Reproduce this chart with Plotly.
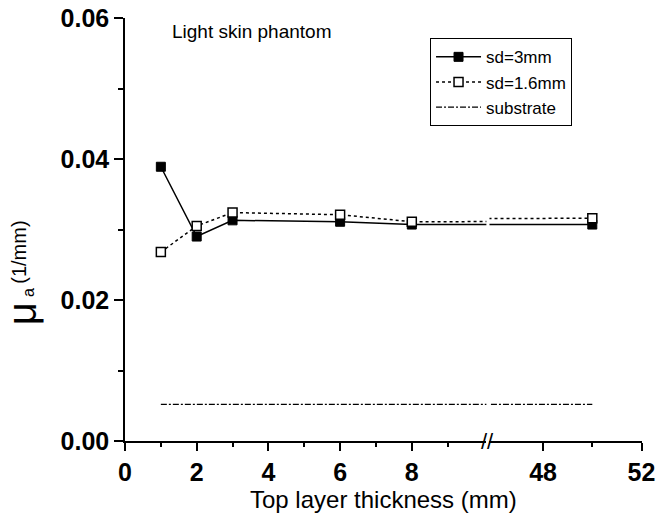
import plotly.graph_objects as go

# Data
thickness = [1, 2, 3, 6, 8, 50]
sd_3mm = [0.0389, 0.0290, 0.0313, 0.0311, 0.0307, 0.0307]
sd_16mm = [0.0268, 0.0305, 0.0324, 0.0321, 0.0311, 0.0316]
substrate = [0.0052, 0.0052, 0.0052, 0.0052, 0.0052, 0.0052]

left_ticks = [0, 2, 4, 6, 8]
left_minor = [1, 3, 5, 7, 9]
right_ticks = [48, 52]
right_minor = [50]
y_ticks = [0.00, 0.02, 0.04, 0.06]

fig = go.Figure()

series = [
    ("sd=3mm", sd_3mm, dict(color="black", width=1.5, dash="solid"),
     dict(symbol="square", size=9, color="black", line=dict(color="black", width=1))),
    ("sd=1.6mm", sd_16mm, dict(color="black", width=1.5, dash="dot"),
     dict(symbol="square", size=9, color="white", line=dict(color="black", width=1.5))),
    ("substrate", substrate, dict(color="black", width=1.3, dash="6px,2px,2px,2px"), None),
]

for xa, show in (("x", True), ("x2", False)):
    for name, vals, line, marker in series:
        fig.add_trace(go.Scatter(
            x=thickness, y=vals, name=name,
            mode="lines+markers" if marker else "lines",
            line=line, marker=marker, xaxis=xa, yaxis="y",
            showlegend=show, cliponaxis=True,
        ))

tickfont = dict(family="Arial", size=25, color="black", weight="bold")
common_x = dict(showline=True, linecolor="black", linewidth=1.5, ticks="outside",
                ticklen=8, tickwidth=1.5, tickcolor="black", showgrid=False,
                zeroline=False, tickfont=tickfont, mirror=False, automargin=False)

fig.update_layout(
    width=658, height=529,
    margin=dict(l=125, r=16, t=18, b=88, autoexpand=False),
    paper_bgcolor="white", plot_bgcolor="white",
    xaxis=dict(domain=[0, 0.699], range=[0, 10.08], tickmode="array",
               tickvals=left_ticks,
               minor=dict(tickvals=left_minor, ticks="outside", ticklen=4,
                          tickwidth=1.5, tickcolor="black"),
               anchor="y", **common_x),
    xaxis2=dict(domain=[0.705, 1], range=[45.82, 52.02], tickmode="array",
                tickvals=right_ticks,
                minor=dict(tickvals=right_minor, ticks="outside", ticklen=4,
                           tickwidth=1.5, tickcolor="black"),
                anchor="y", **common_x),
    yaxis=dict(range=[0, 0.06], tickmode="array", tickvals=y_ticks,
               tickformat=".2f", showline=True, linecolor="black", linewidth=1.5,
               ticks="outside", ticklen=9, tickwidth=1.5, tickcolor="black",
               minor=dict(dtick=0.01, ticks="outside", ticklen=5, tickwidth=1.5,
                          tickcolor="black"),
               showgrid=False, zeroline=False, tickfont=tickfont, anchor="x",
               automargin=False),
    legend=dict(x=0.59, y=0.952, xanchor="left", yanchor="top",
                bordercolor="black", borderwidth=1, bgcolor="white",
                font=dict(family="Arial", size=17, color="black"),
                tracegroupgap=0, itemwidth=45),
    showlegend=True,
)

fig.add_annotation(text="Light skin phantom", xref="paper", yref="paper",
                   x=0.246, y=0.967, showarrow=False, xanchor="center",
                   yanchor="middle",
                   font=dict(family="Arial", size=19, color="black"))
fig.add_annotation(text="Top layer thickness (mm)", xref="paper", yref="paper",
                   x=0.5, y=-0.138, showarrow=False, xanchor="center",
                   yanchor="middle",
                   font=dict(family="Arial", size=24, color="black"))
# y-axis title: "μa (1/mm)" built from three rotated pieces
fig.add_annotation(text="μ", xref="paper", yref="paper", x=-0.199, y=0.30,
                   showarrow=False, textangle=-90, xanchor="center",
                   yanchor="middle",
                   font=dict(family="Arial", size=40, color="black"))
fig.add_annotation(text="a", xref="paper", yref="paper", x=-0.188, y=0.352,
                   showarrow=False, textangle=-90, xanchor="center",
                   yanchor="middle",
                   font=dict(family="Arial", size=16, color="black"))
fig.add_annotation(text="(1/mm)", xref="paper", yref="paper", x=-0.205, y=0.445,
                   showarrow=False, textangle=-90, xanchor="center",
                   yanchor="middle",
                   font=dict(family="Arial", size=20, color="black"))
fig.add_annotation(text="//", xref="paper", yref="paper", x=0.702, y=0,
                   showarrow=False, xanchor="center", yanchor="middle",
                   font=dict(family="Arial", size=22, color="black"))

fig.write_html("out.html", post_script="document.body.style.margin='0';",
               config={"displayModeBar": False})
